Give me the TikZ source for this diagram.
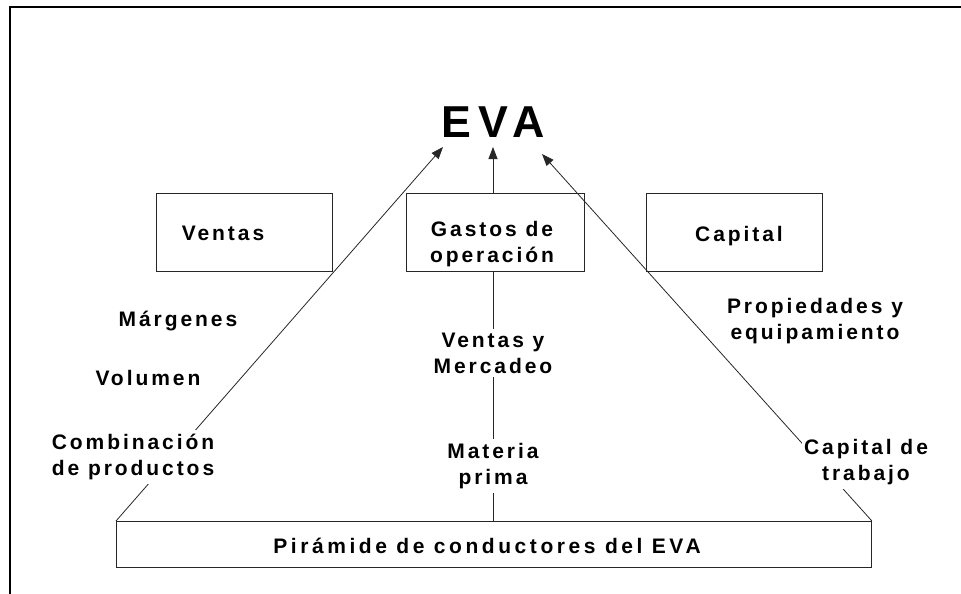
\documentclass[tikz,border=0pt]{standalone}
\usepackage{fontspec}
\setmainfont{Liberation Sans}[LetterSpace=14]
\usetikzlibrary{arrows.meta}
\begin{document}
\begin{tikzpicture}[x=1pt,y=-1pt,
  box/.style={draw=black!85, line width=0.9pt, fill=white, inner sep=0pt},
  lbl/.style={font=\fontsize{21}{26}\selectfont\bfseries, align=center, inner sep=0pt},
  wlbl/.style={lbl, fill=white, inner xsep=2pt, inner ysep=4pt},
  conn/.style={line width=0.8pt, draw=black!85},
  arr/.style={conn, -{Triangle[length=12pt,width=9pt]}}]
\useasboundingbox (0,0) rectangle (961,594);
\draw[line width=2.2pt] (10,594) -- (10,7) -- (961,7);

\coordinate (tipL) at (443,147);
\coordinate (tipM) at (493,147);
\coordinate (tipR) at (542,154);

\node[box, minimum width=178pt, minimum height=78pt] (gastos) at (495,232) {};
\node[box, minimum width=176pt, minimum height=78pt] (ventas) at (244,232) {};
\node[box, minimum width=176pt, minimum height=78pt] (capital) at (734,232) {};
\node[box, minimum width=755pt, minimum height=46pt, anchor=north west] (pyr) at (116,521) {};

\draw[arr] (tipM |- gastos.north) -- (tipM);
\draw[conn] (tipM |- gastos.south) -- (tipM |- pyr.north);
\draw[arr] (pyr.north west) -- (tipL);
\draw[arr] (pyr.north east) -- (tipR);

\node[font=\fontsize{44.7}{50}\selectfont\bfseries\addfontfeatures{LetterSpace=16}, anchor=base, inner sep=0pt] (eva) at (493,137) {EVA};
\node[lbl, anchor=base, font=\fontsize{21}{26}\selectfont\bfseries\addfontfeatures{LetterSpace=17}] (tP) at (487,553) {Pirámide de conductores del EVA};
\node[lbl, anchor=base] (tV) at (223,240) {Ventas};
\node[lbl, anchor=base] (tC) at (739,241) {Capital};
\node[lbl] (tG) at (492,244) {Gastos de\\operación};
\node[lbl, anchor=base] (marg) at (178,326) {Márgenes};
\node[lbl, anchor=base] (vol) at (148,385) {Volumen};
\node[wlbl] (comb) at (133,457) {Combinación\\de productos};
\node[lbl] (prop) at (815,321) {Propiedades y\\equipamiento};
\node[wlbl] (capt) at (866,462) {Capital de\\trabajo};
\node[wlbl] (vym) at (493,353) {Ventas y\\Mercadeo};
\node[wlbl] (mp) at (493,466) {Materia\\prima};
\end{tikzpicture}
\end{document}
